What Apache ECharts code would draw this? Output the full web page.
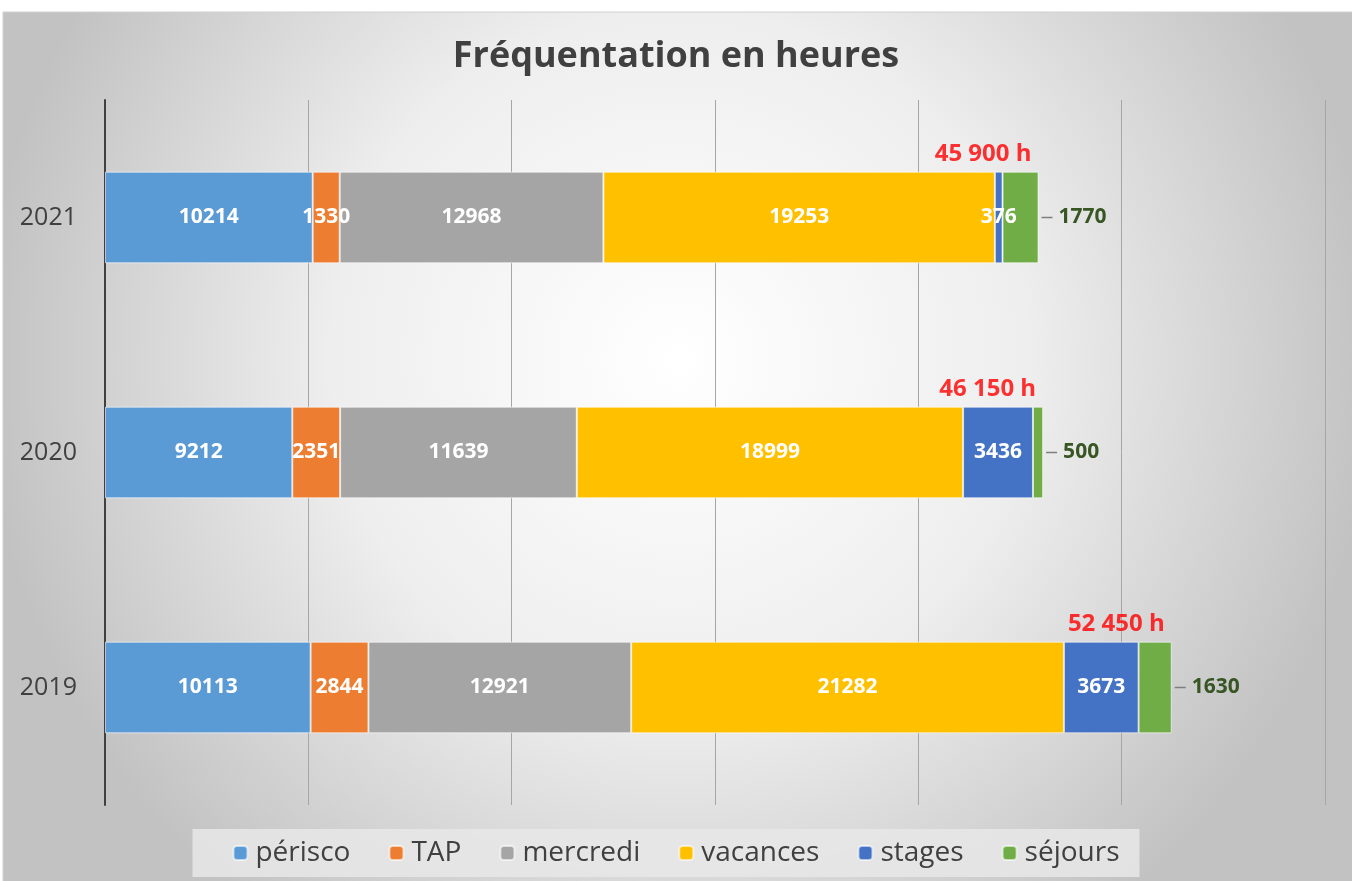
<!DOCTYPE html>
<html>
<head>
<meta charset="utf-8">
<script src="https://cdn.jsdelivr.net/npm/echarts@6/dist/echarts.min.js"></script>
<style>
  html, body { margin: 0; padding: 0; background: #fff; }
  #main { width: 1352px; height: 881px; }
</style>
</head>
<body>
<div id="main"></div>
<script>
var years = ['2019', '2020', '2021'];
var seriesNames = ['périsco', 'TAP', 'mercredi', 'vacances', 'stages', 'séjours'];
var perisco = [10113, 9212, 10214];
var tap = [2844, 2351, 1330];
var mercredi = [12921, 11639, 12968];
var vacances = [21282, 18999, 19253];
var stages = [3673, 3436, 376];
var sejours = [1630, 500, 1770];
var totalLabels = ['52 450 h', '46 150 h', '45 900 h'];

var colors = ['#5b9bd5', '#ed7d31', '#a5a5a5', '#ffc000', '#4472c4', '#70ad47'];
var font = '"Open Sans", "Liberation Sans", sans-serif';

var myChart = echarts.init(document.getElementById('main'));

var values = [perisco, tap, mercredi, vacances, stages, sejours];
var series = [];
for (var i = 0; i < values.length; i++) {
    var s = {
        name: seriesNames[i],
        type: 'bar',
        stack: 'total',
        barWidth: '39%',
        data: values[i],
        itemStyle: { borderColor: 'rgba(255,255,255,0.6)', borderWidth: 1 },
        label: {
            show: true,
            position: 'inside',
            color: '#fff',
            fontFamily: font,
            fontWeight: 'bold',
            fontSize: 21
        }
    };
    if (i === 5) {
        s.label = {
            show: true,
            position: 'right',
            distance: 3,
            fontFamily: font,
            formatter: '{l|}{v|{c}}',
            rich: {
                l: { width: 11, height: 1.5, backgroundColor: '#7f7f7f' },
                v: { color: '#375623', fontWeight: 'bold', fontSize: 21, padding: [0, 0, 0, 6], fontFamily: font }
            }
        };
    }
    series.push(s);
}

// totals drawn above the end of each bar
var totalPoints = years.map(function (y, k) {
    var sum = 0;
    values.forEach(function (v) { sum += v[k]; });
    return { value: [sum, y], label: { formatter: totalLabels[k] } };
});
series.push({
    type: 'scatter',
    symbolSize: 0,
    silent: true,
    data: totalPoints,
    label: {
        show: true,
        position: 'left',
        offset: [-2, -63],
        color: '#ff0000',
        fontFamily: font,
        fontWeight: 'bold',
        fontSize: 24
    },
    z: 5
});

option = {
    color: colors,
    title: {
        text: 'Fréquentation en heures',
        left: 'center',
        top: 34,
        textStyle: { fontFamily: font, fontWeight: 'bold', fontSize: 36, color: '#404040' }
    },
    graphic: [{
        type: 'rect',
        z: -10,
        silent: true,
        shape: { x: 3, y: 12, width: 1352, height: 870 },
        style: {
            fill: new echarts.graphic.RadialGradient(0.5, 0.4, 0.8, [
                { offset: 0, color: '#ffffff' },
                { offset: 0.5, color: '#eeeeee' },
                { offset: 1, color: '#c2c2c2' }
            ]),
            stroke: '#d0d0d0',
            lineWidth: 1
        }
    }],
    legend: {
        bottom: 4,
        left: 'center',
        data: seriesNames,
        itemWidth: 14,
        itemHeight: 14,
        itemGap: 38,
        padding: [10, 20, 10, 40],
        backgroundColor: 'rgba(232,232,232,0.85)',
        textStyle: { fontFamily: font, fontSize: 28, color: '#404040', padding: [0, 0, 0, 3] }
    },
    grid: { left: 105, right: 27, top: 100, bottom: 76 },
    xAxis: {
        type: 'value',
        min: 0,
        max: 60000,
        interval: 10000,
        axisLabel: { show: false },
        axisLine: { show: false },
        axisTick: { show: false },
        splitLine: { lineStyle: { color: '#a6a6a6', width: 1 } }
    },
    yAxis: {
        type: 'category',
        data: years,
        axisTick: { show: false },
        axisLine: { lineStyle: { color: '#404040', width: 2 } },
        axisLabel: { fontFamily: font, fontSize: 25, color: '#404040', margin: 28 }
    },
    series: series
};

myChart.setOption(option);
</script>
</body>
</html>
